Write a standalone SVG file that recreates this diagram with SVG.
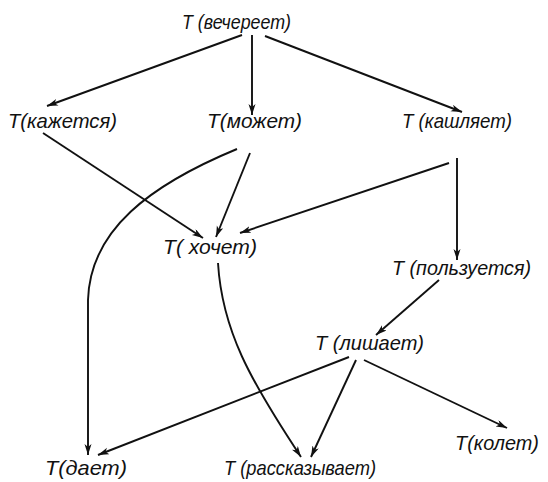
<svg xmlns="http://www.w3.org/2000/svg" width="548" height="482" viewBox="0 0 548 482">
<style>
.lbl{font-family:"Liberation Sans","DejaVu Sans",sans-serif;font-style:italic;font-size:21px;fill:#111}
.e{fill:none;stroke:#111;stroke-width:1.9;marker-end:url(#ah)}
</style>
<defs>
<marker id="ah" markerUnits="userSpaceOnUse" markerWidth="12" markerHeight="8" refX="11" refY="3.5" orient="auto">
<path d="M0,0 L11,3.5 L0,7 L3,3.5 z" fill="#111"/>
</marker>
</defs>
<rect width="548" height="482" fill="#fff"/>
<g id="connectors">
<path class="e" d="M242,35 L47,106"/>
<path class="e" d="M252,35 L252,115"/>
<path class="e" d="M265,36 L462,112"/>
<path class="e" d="M43,133 L203,238"/>
<path class="e" d="M250,153 L216,237"/>
<path class="e" d="M237,149 C150,185 90,230 88,300 L88,455"/>
<path class="e" d="M449,163 L240,233"/>
<path class="e" d="M457,158 L457,260"/>
<path class="e" d="M218,263 C222,330 250,380 301,457"/>
<path class="e" d="M439,280 L376,335"/>
<path class="e" d="M349,357 L98,455"/>
<path class="e" d="M356,360 L311,457"/>
<path class="e" d="M364,360 L507,428"/>
</g>
<g id="n-vechereet"><text class="lbl" x="182" y="29" textLength="109" lengthAdjust="spacingAndGlyphs">T (вечереет)</text></g>
<g id="n-kazhetsya"><text class="lbl" x="8" y="128" textLength="109" lengthAdjust="spacingAndGlyphs">T(кажется)</text></g>
<g id="n-mozhet"><text class="lbl" x="207" y="128" textLength="95" lengthAdjust="spacingAndGlyphs">T(может)</text></g>
<g id="n-kashlyaet"><text class="lbl" x="402" y="128" textLength="110" lengthAdjust="spacingAndGlyphs">T (кашляет)</text></g>
<g id="n-khochet"><text class="lbl" x="163" y="254" textLength="94" lengthAdjust="spacingAndGlyphs">T( хочет)</text></g>
<g id="n-polzuetsya"><text class="lbl" x="392" y="275" textLength="139" lengthAdjust="spacingAndGlyphs">T (пользуется)</text></g>
<g id="n-lishaet"><text class="lbl" x="315" y="350" textLength="109" lengthAdjust="spacingAndGlyphs">T (лишает)</text></g>
<g id="n-daet"><text class="lbl" x="45" y="475" textLength="82" lengthAdjust="spacingAndGlyphs">T(дает)</text></g>
<g id="n-rasskazyvaet"><text class="lbl" x="224" y="475" textLength="152" lengthAdjust="spacingAndGlyphs">T (рассказывает)</text></g>
<g id="n-kolet"><text class="lbl" x="455" y="450" textLength="84" lengthAdjust="spacingAndGlyphs">T(колет)</text></g>
</svg>
